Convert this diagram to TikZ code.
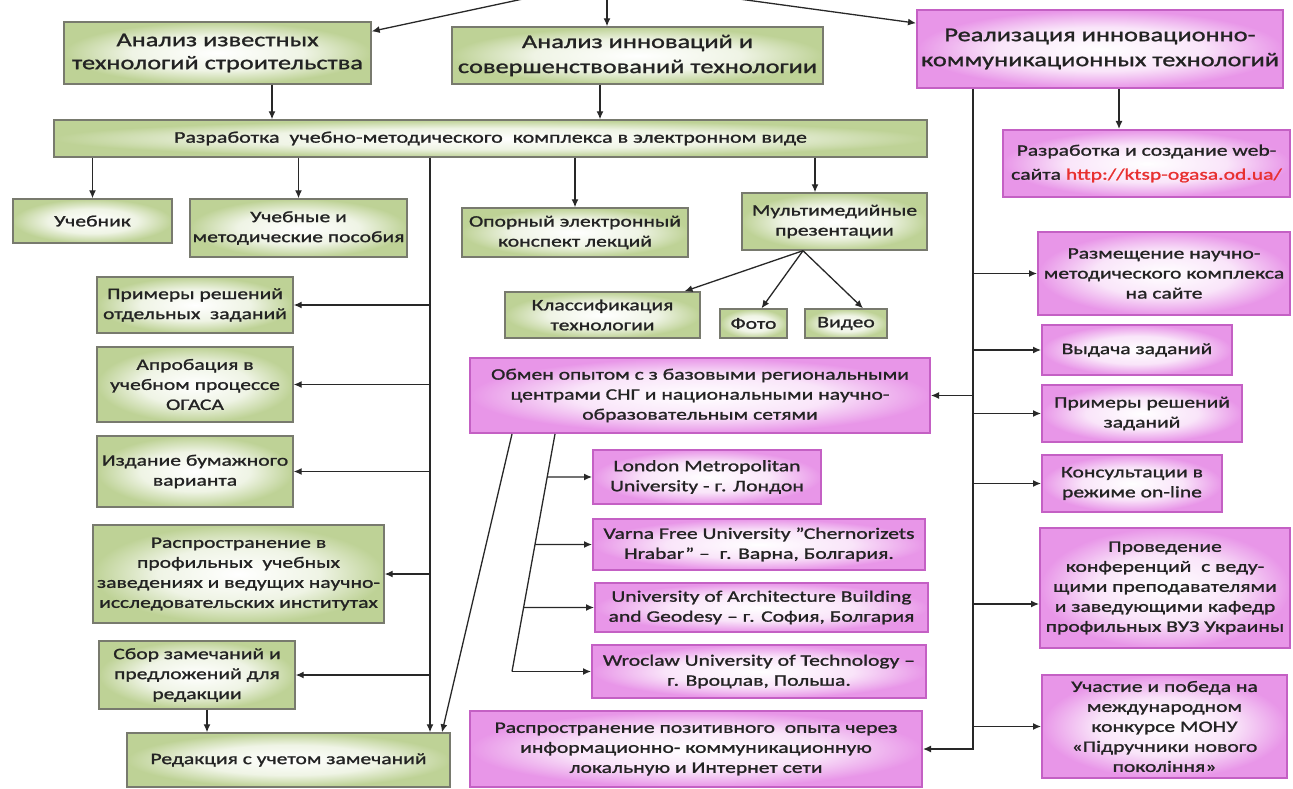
\documentclass[tikz,border=0pt]{standalone}
\usepackage{fontspec}
\setmainfont{Carlito}[FakeStretch=1.35,FakeBold=1.2]
\usepackage{tikz}
\usetikzlibrary{arrows.meta}
\usetikzlibrary{calc}

\definecolor{gedge}{RGB}{190,210,150}
\definecolor{gline}{RGB}{120,122,110}
\definecolor{pedge}{RGB}{232,150,232}
\definecolor{pline}{RGB}{196,96,196}
\definecolor{txtc}{RGB}{35,35,35}
\definecolor{urlc}{RGB}{232,48,48}
\definecolor{wirec}{RGB}{40,40,40}

\pgfdeclareradialshading{gshade}{\pgfpoint{0bp}{0bp}}{color(0bp)=(white); color(14bp)=(gedge!25!white); color(25bp)=(gedge); color(50bp)=(gedge)}
\pgfdeclareradialshading{pshade}{\pgfpoint{0bp}{0bp}}{color(0bp)=(white); color(14bp)=(pedge!25!white); color(25bp)=(pedge); color(50bp)=(pedge)}

\newcommand\hdfont{\fontsize{19.5}{25}\selectfont}
\newcommand\bxfont{\fontsize{16}{20}\selectfont}

\tikzset{
  gbox/.style={draw=gline, line width=1.4pt, shading=gshade, align=center, text=txtc, inner sep=2pt, font=\bxfont},
  pbox/.style={draw=pline, line width=2pt, shading=pshade, align=center, text=txtc, inner sep=2pt, font=\bxfont},
  boxwh/.style 2 args={minimum width=#1pt, minimum height=#2pt},
  wire/.style={draw=wirec, line width=1.3pt},
  arr/.style={wire, -{Latex[length=8pt,width=7pt]}},
}

\begin{document}
\begin{tikzpicture}[x=1pt,y=1pt,yscale=-1]
\useasboundingbox (0,0) rectangle (1293,789);
\fill[white] (0,0) rectangle (1293,789);

% Text Node
\node[gbox, boxwh={307}{62}, font=\fontsize{19.5}{23}\selectfont] (anKnown) at (217.5,53) {Анализ известных\\технологий строительства};
% Text Node
\node[gbox, boxwh={371}{57}, font=\hdfont] (anInnov) at (637.5,55.5) {Анализ инноваций и\\совершенствований технологии};
% Text Node
\node[pbox, boxwh={366}{78}, font=\hdfont] (realIKT) at (1100,49) {Реализация инновационно-\\коммуникационных технологий};
% Text Node
\node[gbox, boxwh={873}{37}, font=\fontsize{16.3}{19}\selectfont] (umk) at (490.5,138.5) {Разработка~ учебно-методического~ комплекса в электронном виде};
% Text Node
\node[pbox, boxwh={287}{67}, font=\fontsize{16}{24}\selectfont] (webSite) at (1146.5,163.5) {Разработка и создание web-\\сайта {\color{urlc}http://ktsp-ogasa.od.ua/}};

% Text Node
\node[gbox, boxwh={159}{44}] (ucheb) at (92.5,221) {Учебник};
% Text Node
\node[gbox, boxwh={217}{58}] (posob) at (298.5,228) {Учебные и\\методические пособия};
% Text Node
\node[gbox, boxwh={226}{49}] (opor) at (575,232.5) {Опорный электронный\\конспект лекций};
% Text Node
\node[gbox, boxwh={185}{57}] (multi) at (834.5,221.5) {Мультимедийные\\презентации};
% Text Node
\node[gbox, boxwh={195}{46}] (klass) at (602.5,315) {Классификация\\технологии};
% Text Node
\node[gbox, boxwh={67}{29}] (foto) at (753.5,323.5) {Фото};
% Text Node
\node[gbox, boxwh={82}{29}] (video) at (846,323.5) {Видео};

% Text Node
\node[gbox, boxwh={196}{56}] (primL) at (195,305) {Примеры решений\\отдельных~ заданий};
% Text Node
\node[gbox, boxwh={196}{75}] (aprob) at (195,384.5) {Апробация в\\учебном процессе\\ОГАСА};
% Text Node
\node[gbox, boxwh={196}{71}] (izdan) at (195,471.5) {Издание бумажного\\варианта};
% Text Node
\node[gbox, boxwh={291}{98}] (rasprP) at (238.5,574) {Распространение в\\профильных~ учебных\\заведениях и ведущих научно-\\исследовательских институтах};
% Text Node
\node[gbox, boxwh={196}{68}] (sbor) at (197,675) {Сбор замечаний и\\предложений для\\редакции};
% Text Node
\node[gbox, boxwh={323}{54}] (redak) at (288.5,760) {Редакция с учетом замечаний};

% Text Node
\node[pbox, boxwh={460}{75}] (obmen) at (700,395.5) {Обмен опытом с з базовыми региональными\\центрами СНГ и национальными научно-\\образовательным сетями};
% Text Node
\node[pbox, boxwh={228}{54}] (london) at (707,477) {London Metropolitan\\University - г. Лондон};
% Text Node
\node[pbox, boxwh={332}{51}] (varna) at (759,544.5) {Varna Free University "Chernorizets\\Hrabar" --~ г. Варна, Болгария.};
% Text Node
\node[pbox, boxwh={333}{49}] (sofia) at (761.5,607.5) {University of Architecture Building\\and Geodesy -- г. София, Болгария};
% Text Node
\node[pbox, boxwh={334}{53}] (wroclaw) at (759,671.5) {Wroclaw University of Technology --\\г. Вроцлав, Польша.};
% Text Node
\node[pbox, boxwh={452}{76}] (raspInet) at (696,749) {Распространение позитивного~ опыта через\\информационно- коммуникационную\\локальную и Интернет сети};

% Text Node
\node[pbox, boxwh={252}{83}] (razm) at (1164,273.5) {Размещение научно-\\методического комплекса\\на сайте};
% Text Node
\node[pbox, boxwh={190}{50}] (vydacha) at (1137,350) {Выдача заданий};
% Text Node
\node[pbox, boxwh={200}{57}] (primR) at (1142,413.5) {Примеры решений\\заданий};
% Text Node
\node[pbox, boxwh={180}{57}] (kons) at (1132,483.5) {Консультации в\\режиме on-line};
% Text Node
\node[pbox, boxwh={250}{120}] (provod) at (1165,588) {Проведение\\конференций~ с веду-\\щими преподавателями\\и заведующими кафедр\\профильных ВУЗ Украины};
% Text Node
\node[pbox, boxwh={245}{103}] (uchast) at (1164.5,726.5) {Участие и победа на\\международном\\конкурсе МОНУ\\«Підручники нового\\покоління»};

%Straight Lines from the top
\coordinate (src) at (607,-19);
\draw[arr] (src) -- (anKnown.8);
\draw[arr] (src) -- (src |- anInnov.north);
\draw[arr] (src) -- (realIKT.172);

%Straight Lines down to the complex
\coordinate (dK) at ($(anKnown.south)+(54.5,0)$);
\draw[arr] (dK) -- (dK |- umk.north);
\coordinate (dI) at ($(anInnov.south)+(-37.5,0)$);
\draw[arr] (dI) -- (dI |- umk.north);
\coordinate (dW) at ($(realIKT.south)+(19,0)$);
\draw[arr] (dW) -- (dW |- webSite.north);

%Straight Lines under the complex
\foreach \b in {ucheb,posob,opor}
  \draw[arr] (\b.north |- umk.south) -- (\b.north);
\coordinate (dM) at ($(multi.north)+(-19.5,0)$);
\draw[arr] (dM |- umk.south) -- (dM);

\coordinate (mf) at ($(multi.south)+(-31.5,0)$);
\draw[arr] (mf) -- ($(klass.north)+(82,0)$);
\draw[arr] (mf) -- ($(foto.north)+(8,0)$);
\draw[arr] (mf) -- ($(video.north)+(17,0)$);

%Left trunk
\coordinate (trL) at ($(umk.south)+(-60.5,0)$);
\draw[arr] (trL) -- (trL |- redak.north);
\foreach \b in {primL,aprob,izdan,rasprP,sbor}
  \draw[arr] (trL |- \b.east) -- (\b.east);
\coordinate (sb) at ($(sbor.south)+(10,0)$);
\draw[arr] (sb) -- (sb |- redak.north);

%Lines from the exchange box
\draw[arr] ($(obmen.south)+(-188,0)$) -- ($(redak.north)+(153.5,0)$);
\coordinate (fa) at ($(obmen.south)+(-145,0)$);
\coordinate (fb) at ($(wroclaw.west)+(-79,0)$);
\draw[wire] (fa) -- (fb);
\draw[arr] (fb) -- (wroclaw.west);
\foreach \b in {london,varna,sofia}
  \draw[arr] (intersection of fa--fb and \b.west--\b.east) -- (\b.west);

%Right trunk
\coordinate (trR) at ($(realIKT.south)+(-127,0)$);
\draw[arr] (trR) |- (raspInet.east);
\draw[arr] (trR |- obmen.east) -- (obmen.east);
\foreach \b in {razm,vydacha,primR,kons,uchast}
  \draw[arr] (trR |- \b.west) -- (\b.west);
\coordinate (pv) at ($(provod.west)+(0,16)$);
\draw[arr] (trR |- pv) -- (pv);

\end{tikzpicture}
\end{document}
